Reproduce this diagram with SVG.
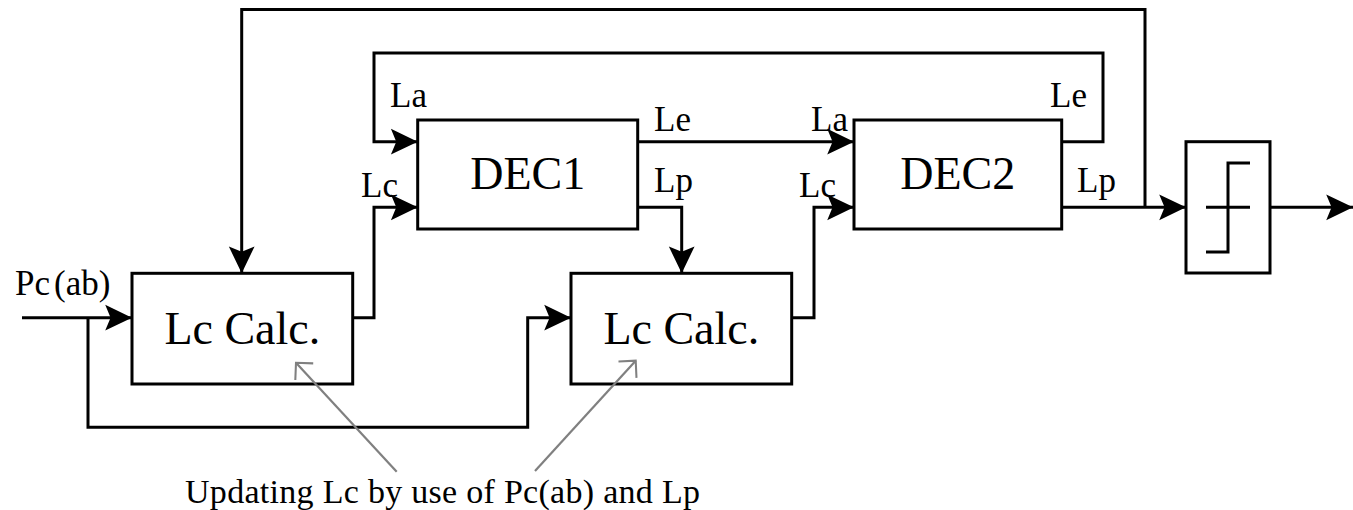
<svg xmlns="http://www.w3.org/2000/svg" width="1353" height="510" viewBox="0 0 1353 510">
<style>
.box{fill:#fff;stroke:#000;stroke-width:3}
.ln{fill:none;stroke:#000;stroke-width:3}
.gr{fill:none;stroke:#808080;stroke-width:2.2}
.big{font-family:"Liberation Serif",serif;font-size:46px;fill:#000}
.lbl{font-family:"Liberation Serif",serif;font-size:35px;fill:#000}
.cap{font-family:"Liberation Serif",serif;font-size:34px;fill:#000}
</style>
<defs>
<marker id="ah" markerUnits="userSpaceOnUse" markerWidth="30" markerHeight="30" viewBox="-26 -14 28 28" refX="0" refY="0" orient="auto">
<path d="M0,0 L-25,-12 L-20,0 L-25,12 Z" fill="#000"/>
</marker>
<marker id="oh" markerUnits="userSpaceOnUse" markerWidth="30" markerHeight="30" viewBox="-22 -16 26 32" refX="0" refY="0" orient="auto">
<path d="M-13,-13 L0,0 L-13,13" fill="none" stroke="#808080" stroke-width="2.2"/>
</marker>
</defs>
<g id="dec1">
<rect class="box" x="417.7" y="120" width="220" height="109"/>
<text class="big" x="527.7" y="189" text-anchor="middle">DEC1</text>
</g>
<g id="dec2">
<rect class="box" x="854" y="120" width="207.7" height="109"/>
<text class="big" x="957.8" y="189" text-anchor="middle">DEC2</text>
</g>
<g id="lccalc1">
<rect class="box" x="132" y="273.3" width="220.7" height="110.7"/>
<text class="big" x="242.3" y="344" text-anchor="middle">Lc Calc.</text>
</g>
<g id="lccalc2">
<rect class="box" x="571" y="273.3" width="220.7" height="110.7"/>
<text class="big" x="681.3" y="344" text-anchor="middle">Lc Calc.</text>
</g>
<g id="limiter">
<rect class="box" x="1186" y="141.7" width="84" height="131.3"/>
<path class="ln" d="M1206,207.3 H1250 M1250,163 H1228 V252 H1206"/>
</g>
<g id="connectors">
<path class="ln" d="M1061.7,207.3 H1186" marker-end="url(#ah)"/>
<path class="ln" d="M1145,207.3 V9.5 H241.7 V273.3" marker-end="url(#ah)"/>
<path class="ln" d="M1061.7,141.7 H1103 V53 H374 V141.7 H417.7" marker-end="url(#ah)"/>
<path class="ln" d="M637.7,141.7 H854" marker-end="url(#ah)"/>
<path class="ln" d="M637.7,207.3 H681.7 V273.3" marker-end="url(#ah)"/>
<path class="ln" d="M352.7,317.7 H374 V207.3 H417.7" marker-end="url(#ah)"/>
<path class="ln" d="M791.7,317.7 H814 V207.3 H854" marker-end="url(#ah)"/>
<path class="ln" d="M22,317.7 H132" marker-end="url(#ah)"/>
<path class="ln" d="M88,317.7 V427.3 H527.7 V317.7 H571" marker-end="url(#ah)"/>
<path class="ln" d="M1270,207.3 H1353" marker-end="url(#ah)"/>
<path class="gr" d="M396.7,471.7 L296,362.7" marker-end="url(#oh)"/>
<path class="gr" d="M535,471 L635.7,360.7" marker-end="url(#oh)"/>
</g>
<g id="labels">
<text class="lbl" x="390" y="107">La</text>
<text class="lbl" x="361" y="197">Lc</text>
<text class="lbl" x="654" y="130.7">Le</text>
<text class="lbl" x="654" y="191.7">Lp</text>
<text class="lbl" x="811" y="130.7">La</text>
<text class="lbl" x="799" y="197">Lc</text>
<text class="lbl" x="1050" y="107">Le</text>
<text class="lbl" x="1077" y="191.7">Lp</text>
<text class="lbl" x="15" y="295">Pc<tspan dx="4">(ab)</tspan></text>
<text class="cap" x="185" y="503" textLength="515" lengthAdjust="spacing">Updating Lc by use of Pc(ab) and Lp</text>
</g>
</svg>
